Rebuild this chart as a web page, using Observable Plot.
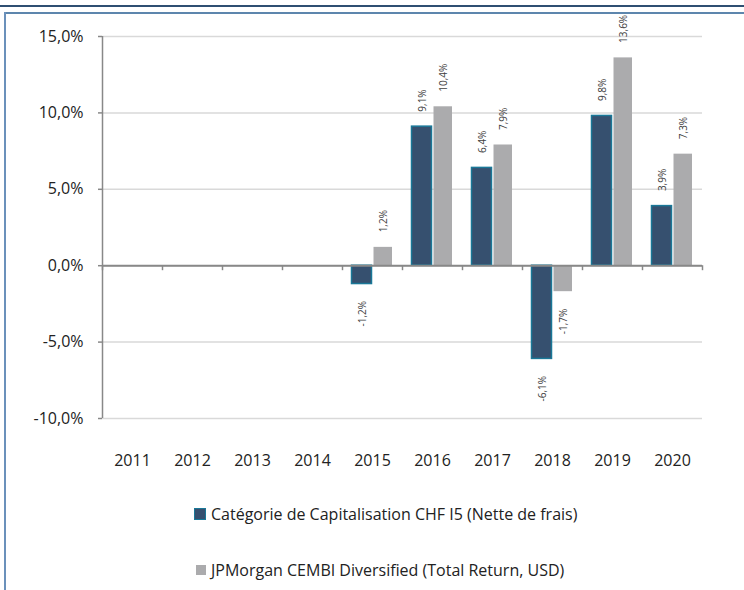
<!DOCTYPE html>
<html>
<head>
<meta charset="utf-8">
<script src="https://cdn.jsdelivr.net/npm/d3@7"></script>
<script src="https://cdn.jsdelivr.net/npm/@observablehq/plot@0.6"></script>
<style>
  html, body { margin: 0; padding: 0; background: #fff; }
  #wrap { position: relative; width: 744px; height: 590px; overflow: hidden; font-family: "Open Sans", sans-serif; }
  #chart { position: absolute; left: 0; top: 0; }
  .line { position: absolute; }
  .legend { position: absolute; left: 194px; font-size: 16px; line-height: 20px; color: #222; display: flex; align-items: center; white-space: nowrap; }
  .sw { display: inline-block; margin-right: 5px; box-sizing: border-box; }
</style>
</head>
<body>
<div id="wrap">
  <div class="line" style="left:0;top:5px;width:744px;height:2px;background:#2f4f72"></div>
  <div class="line" style="left:4px;top:12px;width:740px;height:2px;background:#5d86ad"></div>
  <div class="line" style="left:4px;top:12px;width:2px;height:578px;background:#6b91bb"></div>
  <div id="chart"></div>
  <div class="legend" id="lg1" style="top:504px"></div>
  <div class="legend" id="lg2" style="top:560px"></div>
</div>
<script>
const years = ["2011","2012","2013","2014","2015","2016","2017","2018","2019","2020"];
const fundValues = [null, null, null, null, -1.2, 9.1, 6.4, -6.1, 9.8, 3.9];
const benchValues = [null, null, null, null, 1.2, 10.4, 7.9, -1.7, 13.6, 7.3];
const seriesNames = ["Catégorie de Capitalisation CHF I5 (Nette de frais)", "JPMorgan CEMBI Diversified (Total Return, USD)"];
const yTicks = [-10, -5, 0, 5, 10, 15];

const fundColor = "#36506f", fundStroke = "#1a7898", benchColor = "#ababad";
const fmt = v => v.toFixed(1).replace(".", ",") + "%";

const fund = years.map((y, i) => ({year: y, value: fundValues[i]})).filter(d => d.value != null);
const bench = years.map((y, i) => ({year: y, value: benchValues[i]})).filter(d => d.value != null);

const font = "'Open Sans', sans-serif";
const labelStyle = {fontSize: 10, fill: "#404040", fontFamily: font, rotate: -90};

const chart = Plot.plot({
  width: 744,
  height: 480,
  marginLeft: 102,
  marginRight: 42,
  marginTop: 36,
  marginBottom: 62,
  style: {fontFamily: font, background: "transparent", overflow: "visible"},
  x: {domain: years, padding: 0, axis: null, label: null},
  y: {domain: [yTicks[0], yTicks[yTicks.length - 1]], axis: null, label: null},
  marks: [
    Plot.gridY(yTicks, {stroke: "#d9d9d9", strokeOpacity: 1, strokeWidth: 1.5}),
    Plot.axisY({ticks: yTicks, tickFormat: fmt, tickSize: 4, tickPadding: 15, fontSize: 16, stroke: "#888", fill: "#222", strokeWidth: 1.5, label: null}),
    Plot.ruleX([years[0]], {x: d => d, dx: -30, y1: () => yTicks[0], y2: () => yTicks[yTicks.length - 1], stroke: "#888", strokeWidth: 1.5}),
    Plot.axisX({tickSize: 0, tickPadding: 36, fontSize: 16, fill: "#222", label: null}),
    Plot.barY(fund, {x: "year", y: "value", fill: fundColor, stroke: fundStroke, strokeWidth: 1.5, insetLeft: 9.5, insetRight: 30.5}),
    Plot.barY(bench, {x: "year", y: "value", fill: benchColor, insetLeft: 31.5, insetRight: 10}),
    Plot.ruleY([0], {stroke: "#888", strokeWidth: 2}),
    Plot.ruleX(years, {x: d => d, dx: -30, y1: () => 0, y2: () => 0, insetBottom: -5, stroke: "#888", strokeWidth: 1.5}),
    Plot.ruleX([years[years.length - 1]], {x: d => d, dx: 30, y1: () => 0, y2: () => 0, insetBottom: -5, stroke: "#888", strokeWidth: 1.5}),
    Plot.text(fund.filter(d => d.value >= 0), {x: "year", y: "value", text: d => fmt(d.value), dx: -10, dy: -15, textAnchor: "start", ...labelStyle}),
    Plot.text(fund.filter(d => d.value < 0), {x: "year", y: "value", text: d => fmt(d.value), dx: -10, dy: 17, textAnchor: "end", ...labelStyle}),
    Plot.text(bench.filter(d => d.value >= 0), {x: "year", y: "value", text: d => fmt(d.value), dx: 11, dy: -15, textAnchor: "start", ...labelStyle}),
    Plot.text(bench.filter(d => d.value < 0), {x: "year", y: "value", text: d => fmt(d.value), dx: 11, dy: 17, textAnchor: "end", ...labelStyle})
  ]
});
document.getElementById("chart").appendChild(chart);

const lg1 = document.getElementById("lg1");
lg1.innerHTML = `<span class="sw" style="width:12px;height:12px;background:${fundColor};border:1.5px solid ${fundStroke}"></span><span></span>`;
lg1.lastChild.textContent = seriesNames[0];
const lg2 = document.getElementById("lg2");
lg2.innerHTML = `<span class="sw" style="width:10px;height:10px;background:${benchColor};margin-left:2px"></span><span></span>`;
lg2.lastChild.textContent = seriesNames[1];
</script>
</body>
</html>
